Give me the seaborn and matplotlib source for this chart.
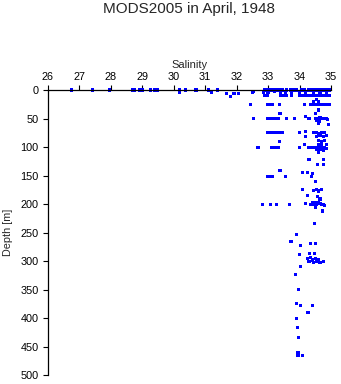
import matplotlib
matplotlib.use("Agg")
import matplotlib.pyplot as plt
import seaborn as sns
import pandas as pd

sns.set_style("white")
plt.rcParams['font.family'] = ['Liberation Sans', 'DejaVu Sans']

title = "MODS2005 in April, 1948"
x_label = "Salinity"
y_label = "Depth [m]"
x_ticks = [26, 27, 28, 29, 30, 31, 32, 33, 34, 35]
y_ticks = [0, 50, 100, 150, 200, 250, 300, 350, 400, 450, 500]

# surface (~0 m)
sal_0 = [26.76, 27.42, 27.95, 28.68, 28.74, 28.93, 29.02, 29.28, 29.41, 29.5, 30.18, 30.37,
         30.71, 31.1, 31.4, 32.9, 33.0, 33.1, 33.2, 33.28, 33.35, 33.45, 33.6, 33.7, 33.8,
         33.9, 34.05, 34.15, 34.3, 34.4, 34.5, 34.55, 34.6, 34.7, 34.8, 34.9, 34.95]
dep_0 = [0] * len(sal_0)

# shallow points (salinity, depth)
sal_1 = [32.53, 30.18, 31.2, 31.69, 31.92, 32.05, 32.5, 32.85, 33.0, 33.2, 33.4, 33.55, 33.75,
         34.0, 34.2, 34.45, 34.65, 34.85, 31.81, 32.88, 32.97, 33.4, 33.5, 33.6, 33.75, 34.0,
         34.1, 34.2, 34.3, 34.4, 34.5, 34.6, 34.7, 34.8, 34.9, 34.95, 34.54, 34.45, 34.6]
dep_1 = [2, 4, 4, 6, 6, 6, 5, 5, 4, 3, 5, 4, 4,
         4, 5, 4, 5, 4, 11, 10, 10, 10, 10, 10, 10, 10,
         10, 10, 10, 10, 10, 10, 10, 10, 10, 10, 16, 20, 21]

sal_2 = [32.43, 32.97, 33.05, 33.13, 33.36, 34.15, 34.35, 34.45, 34.55, 34.65, 34.75, 34.85,
         34.95, 34.6, 33.38, 34.5, 32.55, 33.0, 33.1, 33.18, 33.25, 33.33, 33.6, 33.85, 34.2,
         34.3, 34.5, 34.6, 34.65, 34.75, 34.85, 34.9, 34.55, 34.62, 34.6, 34.92]
dep_2 = [26, 26, 26, 26, 26, 26, 26, 26, 26, 26, 26, 26,
         26, 35, 41, 41, 50, 50, 50, 50, 50, 50, 50, 50, 47,
         50, 50, 50, 49, 50, 50, 52, 54, 55, 58, 60]

sal_3 = [33.0, 33.07, 33.13, 33.2, 33.3, 33.38, 33.45, 34.0, 34.2, 34.45, 34.55, 34.6, 34.7,
         34.8, 34.2, 34.55, 34.65, 34.75, 34.85, 33.36, 34.6, 34.7, 34.8, 34.15, 34.6, 34.7,
         34.85, 32.68, 33.1, 33.2, 33.28, 33.34, 34.0, 34.3, 34.4, 34.5, 34.6, 34.7, 34.8,
         34.85, 34.55, 34.65, 34.75, 34.6]
dep_3 = [75, 75, 75, 75, 75, 75, 75, 75, 72, 75, 75, 76, 75,
         75, 82, 82, 80, 82, 80, 90, 88, 90, 89, 96, 96, 95,
         96, 100, 100, 100, 100, 100, 100, 100, 100, 100, 100, 101, 100,
         102, 105, 104, 106, 110]

sal_4 = [34.3, 34.77, 34.58, 34.75, 33.38, 34.1, 34.25, 34.4, 33.0, 33.07, 33.15, 33.55,
         34.37, 34.5, 34.1, 34.45, 34.55, 34.6, 34.7, 34.25, 34.57, 34.65]
dep_4 = [122, 122, 131, 131, 141, 145, 145, 147, 151, 151, 151, 151,
         152, 161, 175, 176, 174, 177, 175, 185, 186, 191]

sal_5 = [32.83, 33.07, 33.26, 33.68, 34.2, 34.35, 34.4, 34.45, 34.5, 34.55, 34.6, 34.65,
         34.7, 34.75, 34.8, 34.5, 34.55, 34.45, 34.73, 34.48]
dep_5 = [200, 200, 200, 200, 199, 200, 198, 201, 199, 200, 198, 199,
         200, 201, 203, 205, 197, 198, 212, 234]

sal_6 = [33.89, 33.73, 34.34, 34.5, 34.04, 34.33, 34.49, 34.0, 34.25, 34.3, 34.35, 34.4,
         34.45, 34.5, 34.55, 34.6, 34.65, 34.75, 34.02, 33.88, 33.98, 33.9, 34.03, 34.4,
         34.27, 33.9, 33.93, 33.98, 33.95, 33.95, 34.1]
dep_6 = [254, 265, 269, 269, 272, 287, 287, 289, 296, 300, 293, 298,
         302, 296, 300, 298, 303, 301, 310, 324, 350, 374, 378, 378,
         390, 401, 416, 434, 461, 465, 466]

salinity = sal_0 + sal_1 + sal_2 + sal_3 + sal_4 + sal_5 + sal_6
depth = dep_0 + dep_1 + dep_2 + dep_3 + dep_4 + dep_5 + dep_6
df = pd.DataFrame({"Salinity": salinity, "Depth": depth})

fig = plt.figure(figsize=(3.41, 3.84), dpi=100)
ax = fig.add_axes([47.7 / 341, 1 - 375.3 / 384, (331 - 47.7) / 341, (375.3 - 90) / 384])

sns.scatterplot(data=df, x="Salinity", y="Depth", ax=ax, marker="s", s=5,
                color="#0000ff", edgecolor="none", linewidth=0, clip_on=False)

ax.set_xlim(26, 35)
ax.set_ylim(500, 0)
ax.set_xticks(x_ticks)
ax.set_yticks(y_ticks)
ax.xaxis.tick_top()
ax.xaxis.set_label_position("top")
ax.tick_params(axis="x", direction="out", length=3.5, width=0.8, pad=2.5, labelsize=7.8,
               top=True, bottom=False, colors="black")
ax.tick_params(axis="y", direction="out", length=3.5, width=0.8, pad=3, labelsize=7.8,
               left=True, colors="black")
ax.set_xlabel(x_label, fontsize=8, labelpad=3)
ax.set_ylabel(y_label, fontsize=7.8, labelpad=5)
for side in ["right", "bottom"]:
    ax.spines[side].set_visible(False)
for side in ["top", "left"]:
    ax.spines[side].set_linewidth(0.9)
    ax.spines[side].set_color("black")
ax.grid(False)

fig.text(189.5 / 341, 1 - 12.7 / 384, title, ha="center", va="baseline", fontsize=11)

fig.savefig("out.png", dpi=100)
